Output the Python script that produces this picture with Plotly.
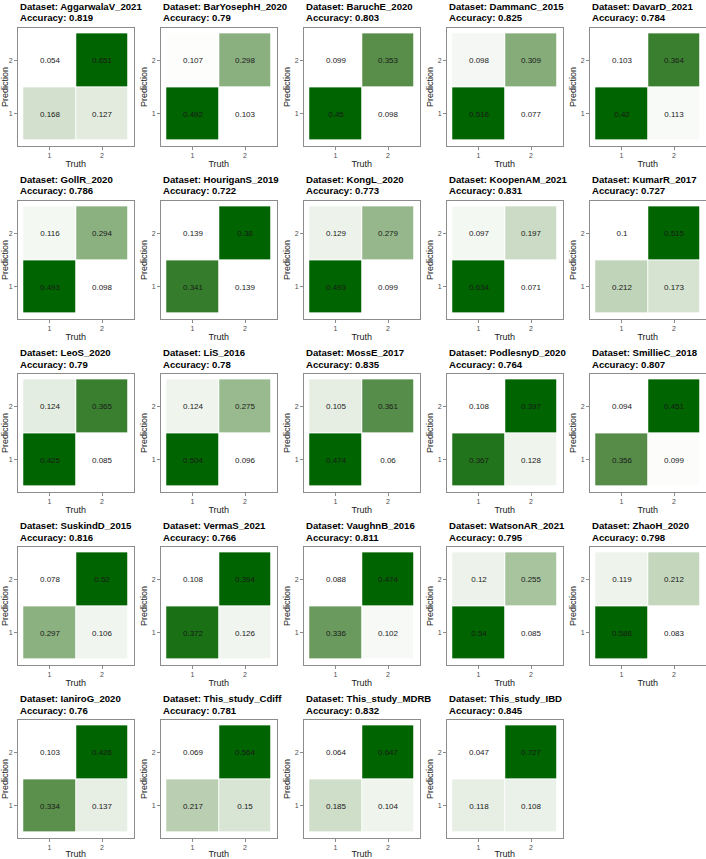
import plotly.graph_objects as go

datasets = ["AggarwalaV_2021", "BarYosephH_2020", "BaruchE_2020", "DammanC_2015", "DavarD_2021",
            "GollR_2020", "HouriganS_2019", "KongL_2020", "KoopenAM_2021", "KumarR_2017",
            "LeoS_2020", "LiS_2016", "MossE_2017", "PodlesnyD_2020", "SmillieC_2018",
            "SuskindD_2015", "VermaS_2021", "VaughnB_2016", "WatsonAR_2021", "ZhaoH_2020",
            "IaniroG_2020", "This_study_Cdiff", "This_study_MDRB", "This_study_IBD"]
accuracy = [0.819, 0.79, 0.803, 0.825, 0.784,
            0.786, 0.722, 0.773, 0.831, 0.727,
            0.79, 0.78, 0.835, 0.764, 0.807,
            0.816, 0.766, 0.811, 0.795, 0.798,
            0.76, 0.781, 0.832, 0.845]
# Prediction 2 / Truth 1 (top-left)
pred2_truth1 = [0.054, 0.107, 0.099, 0.098, 0.103,
                0.116, 0.139, 0.129, 0.097, 0.1,
                0.124, 0.124, 0.105, 0.108, 0.094,
                0.078, 0.108, 0.088, 0.12, 0.119,
                0.103, 0.069, 0.064, 0.047]
# Prediction 2 / Truth 2 (top-right)
pred2_truth2 = [0.651, 0.298, 0.353, 0.309, 0.364,
                0.294, 0.38, 0.279, 0.197, 0.515,
                0.365, 0.275, 0.361, 0.397, 0.451,
                0.52, 0.394, 0.474, 0.255, 0.212,
                0.426, 0.564, 0.647, 0.727]
# Prediction 1 / Truth 1 (bottom-left)
pred1_truth1 = [0.168, 0.492, 0.45, 0.516, 0.42,
                0.493, 0.341, 0.493, 0.634, 0.212,
                0.425, 0.504, 0.474, 0.367, 0.356,
                0.297, 0.372, 0.336, 0.54, 0.586,
                0.334, 0.217, 0.185, 0.118]
# Prediction 1 / Truth 2 (bottom-right)
pred1_truth2 = [0.127, 0.103, 0.098, 0.077, 0.113,
                0.098, 0.139, 0.099, 0.071, 0.173,
                0.085, 0.096, 0.06, 0.128, 0.099,
                0.106, 0.126, 0.102, 0.085, 0.083,
                0.137, 0.15, 0.104, 0.108]
axis_levels = [1, 2]
axis_ticktext = ["1", "2"]

W, H = 706, 859
FONT = "Liberation Sans, Arial, sans-serif"
colorscale = [[0.0, "#FFFFFF"], [0.25, "rgb(197,215,190)"], [0.5, "rgb(139,176,128)"],
              [0.75, "rgb(82,138,68)"], [1.0, "#006400"]]

fig = go.Figure()
box_w, box_h = 115.5, 118
for i, name in enumerate(datasets):
    c, r = i % 5, i // 5
    left = 18 + 143 * c
    top = 28 + 173 * r
    xa = "xaxis" if i == 0 else f"xaxis{i+1}"
    ya = "yaxis" if i == 0 else f"yaxis{i+1}"
    xr = "x" if i == 0 else f"x{i+1}"
    yr = "y" if i == 0 else f"y{i+1}"
    z = [[pred1_truth1[i], pred1_truth2[i]], [pred2_truth1[i], pred2_truth2[i]]]
    txt = [[str(v) for v in row] for row in z]
    fig.add_trace(go.Heatmap(
        x=axis_levels, y=axis_levels, z=z, text=txt, texttemplate="%{text}",
        textfont=dict(size=8, color="#1a1a1a", family=FONT),
        colorscale=colorscale, showscale=False, xgap=1, ygap=1,
        hoverinfo="skip", xaxis=xr, yaxis=yr))
    common = dict(range=[0.4, 2.6], tickvals=axis_levels, ticktext=axis_ticktext,
                  showgrid=False, zeroline=False, showline=True, mirror=True,
                  linecolor="#8c8c8c", linewidth=1, ticks="outside", ticklen=3,
                  tickcolor="#8c8c8c", tickfont=dict(size=7, color="#4d4d4d", family=FONT),
                  fixedrange=True)
    fig.layout[xa] = dict(domain=[left / W, (left + box_w) / W], anchor=yr,
                          title=dict(text="Truth", font=dict(size=9, color="#1a1a1a", family=FONT), standoff=2),
                          **common)
    fig.layout[ya] = dict(domain=[1 - (top + box_h) / H, 1 - top / H], anchor=xr,
                          title=dict(text="Prediction", font=dict(size=9, color="#1a1a1a", family=FONT), standoff=2),
                          **common)
    fig.add_annotation(xref="paper", yref="paper", x=left / W, y=1 - (top - 22) / H,
                       xanchor="left", yanchor="middle", showarrow=False,
                       text=f"<b>Dataset: {name}</b>",
                       font=dict(size=9.6, color="#000000", family=FONT))
    fig.add_annotation(xref="paper", yref="paper", x=left / W, y=1 - (top - 10) / H,
                       xanchor="left", yanchor="middle", showarrow=False,
                       text=f"<b>Accuracy: {accuracy[i]}</b>",
                       font=dict(size=9.6, color="#000000", family=FONT))

fig.update_layout(width=W, height=H, margin=dict(l=0, r=0, t=0, b=0),
                  paper_bgcolor="white", plot_bgcolor="white", showlegend=False,
                  font=dict(family=FONT))
fig.write_html("out.html", config={"displayModeBar": False},
               post_script="document.body.style.margin='0';document.body.style.overflow='hidden';")
